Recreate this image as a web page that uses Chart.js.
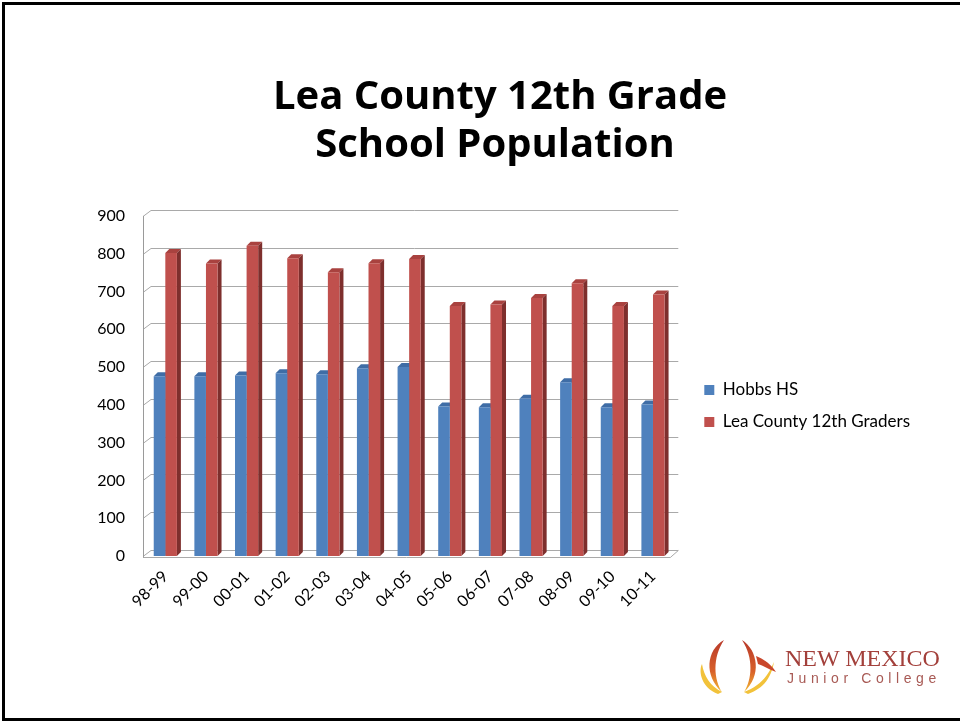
<!DOCTYPE html>
<html><head><meta charset="utf-8">
<script src="https://cdn.jsdelivr.net/npm/chart.js@4.4.1/dist/chart.umd.min.js"></script>
<style>
html,body{margin:0;padding:0;background:#fff;}
#wrap{position:relative;width:960px;height:721px;overflow:hidden;background:#fff;}
#c{position:absolute;left:0;top:0;}
#frame{position:absolute;left:2px;top:2px;width:990px;height:719px;box-sizing:border-box;border-top:3px solid #000;border-left:3px solid #000;border-bottom:3px solid #000;pointer-events:none;}
#logo{position:absolute;left:696px;top:636px;width:84px;height:60px;}
#nm{position:absolute;left:785px;top:645px;font-family:"Liberation Serif",serif;font-size:24px;color:#a3403b;line-height:26px;white-space:nowrap;}
#jc{position:absolute;left:787px;top:670px;font-family:"Liberation Sans",sans-serif;font-size:14px;letter-spacing:4.6px;color:#a85a55;line-height:16px;white-space:nowrap;}
</style></head>
<body>
<div id="wrap">
<canvas id="c" width="960" height="721"></canvas>
<svg id="logo" viewBox="0 0 84 60" xmlns="http://www.w3.org/2000/svg">
  <defs>
    <linearGradient id="g1" x1="0" y1="0" x2="0" y2="1">
      <stop offset="0" stop-color="#b8392a"/><stop offset="0.6" stop-color="#d8602a"/><stop offset="1" stop-color="#f3b832"/>
    </linearGradient>
  </defs>
  <path d="M28 4 C10 14 8 40 26 56 C18 44 16 22 28 4 Z" fill="url(#g1)"/>
  <path d="M22 58 C6 52 2 36 6 28 C8 40 14 50 26 56 Z" fill="#f2c23a"/>
  <path d="M46 4 C62 14 66 40 48 56 C56 44 58 22 46 4 Z" fill="url(#g1)"/>
  <path d="M52 58 C70 52 76 38 78 26 C72 40 64 50 48 56 Z" fill="#f2c23a"/>
  <path d="M60 20 C70 24 76 30 80 36 C74 34 68 30 62 28 Z" fill="#c9472c"/>
</svg>
<div id="nm">NEW MEXICO</div>
<div id="jc">Junior College</div>
<div id="frame"></div>
</div>
<script>
const categories = ['98-99','99-00','00-01','01-02','02-03','03-04','04-05','05-06','06-07','07-08','08-09','09-10','10-11'];
const hobbsHS = [476,476,478,484,481,497,500,396,394,416,460,394,401];
const leaCounty = [802,774,821,788,751,775,786,662,666,683,722,662,692];
const seriesNames = ['Hobbs HS','Lea County 12th Graders'];
const yTicks = [0,100,200,300,400,500,600,700,800,900];
const titleLines = ['Lea County 12th Grade','School Population'];

const frontColors = ['#4F81BD','#C0504D'];
const topColors = ['#3F6DA6','#A9423F'];
const sideColors = ['#385F90','#7E2F2D'];
const DX = 8, DY = 6;     // wall depth
const BDX = 4, BDY = 4;   // bar depth

const threeD = {
  id: 'threeD',
  beforeDatasetsDraw(chart) {
    const {ctx, chartArea: a, scales: {y}} = chart;
    ctx.save();
    ctx.lineWidth = 1;
    const x0 = a.left - 2;
    const xr = a.right - 3;
    ctx.strokeStyle = '#a9a9a9';
    yTicks.forEach(v => {
      const yf = Math.round(y.getPixelForValue(v)) + 0.5;
      ctx.beginPath();
      ctx.moveTo(x0, yf);
      ctx.lineTo(x0 + DX, yf - DY);
      ctx.lineTo(xr + DX, yf - DY);
      ctx.stroke();
    });
    const yb = Math.round(y.getPixelForValue(0)) + 1.5;
    ctx.beginPath();
    ctx.moveTo(x0, yb);
    ctx.lineTo(xr, yb);
    ctx.lineTo(xr + DX, yb - DY - 1);
    ctx.stroke();
    ctx.strokeStyle = '#9a9a9a';
    ctx.beginPath();
    ctx.moveTo(x0 + 0.5, Math.round(y.getPixelForValue(900)));
    ctx.lineTo(x0 + 0.5, yb);
    ctx.stroke();
    chart.data.datasets.forEach((ds, i) => {
      const meta = chart.getDatasetMeta(i);
      meta.data.forEach(bar => {
        const l = bar.x - bar.width / 2, r = bar.x + bar.width / 2, t = bar.y, b = bar.base;
        ctx.fillStyle = topColors[i];
        ctx.beginPath();
        ctx.moveTo(l, t); ctx.lineTo(l + BDX, t - BDY); ctx.lineTo(r + BDX, t - BDY); ctx.lineTo(r, t);
        ctx.closePath(); ctx.fill();
        ctx.fillStyle = sideColors[i];
        ctx.beginPath();
        ctx.moveTo(r, t); ctx.lineTo(r + BDX, t - BDY); ctx.lineTo(r + BDX, b - BDY); ctx.lineTo(r, b);
        ctx.closePath(); ctx.fill();
      });
    });
    ctx.restore();
  }
};

const titlePlugin = {
  id: 'titleText',
  afterDraw(chart) {
    const ctx = chart.ctx;
    ctx.save();
    ctx.fillStyle = '#000';
    ctx.font = 'bold 40px "Open Sans"';
    ctx.textAlign = 'center';
    ctx.textBaseline = 'alphabetic';
    ctx.fillText(titleLines[0], 500, 109);
    ctx.fillText(titleLines[1], 495, 157);
    ctx.restore();
  }
};

const legendShift = {
  id: 'legendShift',
  afterLayout(chart) {
    const lg = chart.legend;
    if (lg) { lg.top -= 10; lg.bottom -= 10; }
  }
};

new Chart(document.getElementById('c'), {
  type: 'bar',
  data: {
    labels: categories,
    datasets: [
      {label: seriesNames[0], data: hobbsHS, backgroundColor: frontColors[0], borderWidth: 0, categoryPercentage: 0.57, barPercentage: 1.0},
      {label: seriesNames[1], data: leaCounty, backgroundColor: frontColors[1], borderWidth: 0, categoryPercentage: 0.57, barPercentage: 1.0}
    ]
  },
  options: {
    responsive: false,
    animation: false,
    devicePixelRatio: 1,
    layout: {padding: {left: 97, top: 216, right: 40, bottom: 105}},
    plugins: {
      title: {display: false},
      tooltip: {enabled: false},
      legend: {
        position: 'right',
        align: 'center',
        maxWidth: 400,
        labels: {boxWidth: 10, boxHeight: 10, padding: 15, color: '#000', font: {family: 'Lato', size: 17}}
      }
    },
    scales: {
      x: {
        grid: {display: false, drawTicks: false},
        border: {display: false},
        ticks: {color: '#000', font: {family: 'Lato', size: 16}, maxRotation: 45, minRotation: 45, padding: 11},
        afterFit(s) { s.height = 60; }
      },
      y: {
        min: 0, max: 900,
        grid: {display: false, drawTicks: false},
        border: {display: false},
        ticks: {stepSize: 100, color: '#000', font: {family: 'Lato', size: 16}, padding: 20},
        afterFit(s) { s.width = 48; }
      },
      y2: {
        position: 'right',
        display: true,
        grid: {display: false, drawTicks: false},
        border: {display: false},
        ticks: {display: false},
        afterFit(s) { s.width = 16; }
      }
    }
  },
  plugins: [threeD, titlePlugin, legendShift]
});
</script>
</body></html>
